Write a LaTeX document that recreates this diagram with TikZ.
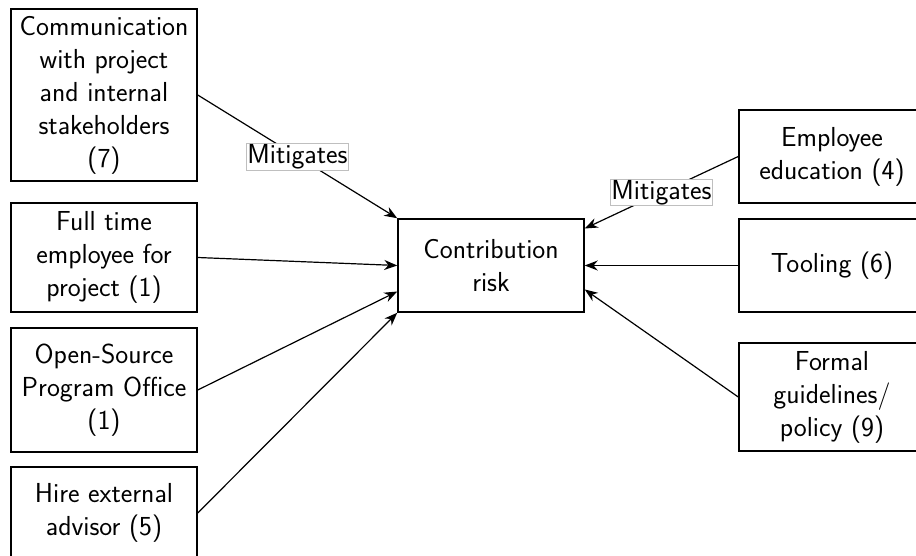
\documentclass[tikz,border=0pt]{standalone}
\usetikzlibrary{arrows.meta}
\begin{document}
\begin{tikzpicture}[x=1pt,y=-1pt,
  box/.style={draw=black, line width=1.5pt, rectangle, minimum width=186pt, inner sep=0pt, align=center,
    font=\sffamily\fontsize{27.5}{33}\selectfont},
  conn/.style={draw=black, line width=1.2pt, -{Stealth[length=13pt,width=10pt]}},
  lbl/.style={fill=white, draw=black!25, line width=0.8pt, inner sep=1pt, outer sep=0pt,
    font=\sffamily\fontsize{27.5}{33}\selectfont}]
\clip (0,0) rectangle (916,556);
\node[box, minimum height=172pt] (comm) at (104,95) {Communication\\with project\\and internal\\stakeholders\\(7)};
\node[box, minimum height=109pt] (full) at (104,257.5) {Full time\\employee for\\project (1)};
\node[box, minimum height=124pt] (oss) at (104,390) {Open-Source\\Program Office\\(1)};
\node[box, minimum height=92pt] (hire) at (104,513) {Hire external\\advisor (5)};
\node[box, minimum height=93pt] (risk) at (491,265.5) {Contribution\\risk};
\node[box, minimum height=93pt] (emp) at (832,156.5) {Employee\\education (4)};
\node[box, minimum height=93pt] (tool) at (832,265.5) {Tooling (6)};
\node[box, minimum height=108pt] (formal) at (832,397) {Formal\\guidelines/\\policy (9)};
\draw[conn] (comm.east) -- node[lbl] {Mitigates} (risk.north west);
\draw[conn] (full.east) -- (risk.west);
\draw[conn] (oss.east) -- ([yshift=-26pt]risk.west);
\draw[conn] (hire.east) -- (risk.south west);
\draw[conn] (emp.west) -- node[lbl] {Mitigates} ([yshift=37pt]risk.east);
\draw[conn] (tool.west) -- (risk.east);
\draw[conn] (formal.west) -- ([yshift=-24pt]risk.east);
\end{tikzpicture}
\end{document}
